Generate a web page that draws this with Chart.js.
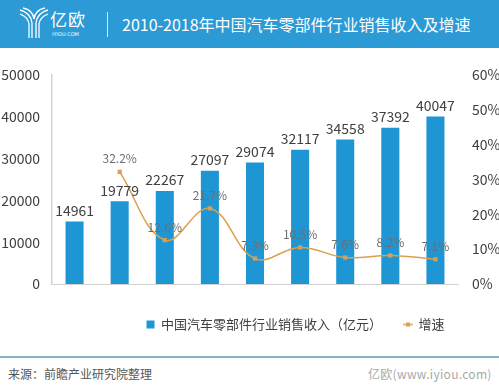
<!DOCTYPE html>
<html>
<head>
<meta charset="utf-8">
<script src="https://cdn.jsdelivr.net/npm/chart.js@4/dist/chart.umd.min.js"></script>
<style>
  html, body { margin: 0; padding: 0; }
  body { width: 499px; height: 390px; overflow: hidden; position: relative; background: #ffffff;
         font-family: "Noto Sans CJK SC", "Noto Sans", sans-serif; }
  #header { position: absolute; left: 0; top: 0; width: 499px; height: 48px; background: #2c9ad5; }
  #title { position: absolute; left: 122px; top: 12px; font-size: 16px; line-height: 24px; color: #ffffff; white-space: nowrap; }
  #brand { position: absolute; left: 50px; top: 9px; font-size: 17px; line-height: 20px; color: #ffffff; letter-spacing: 1px; }
  #brandsub { position: absolute; left: 52px; top: 31px; font-size: 5px; line-height: 6px; color: #ffffff; font-family: "DejaVu Sans", sans-serif; }
  #sep { position: absolute; left: 107px; top: 12px; width: 1px; height: 25px; background: rgba(255,255,255,0.8); }
  #logo { position: absolute; left: 18px; top: 7px; }
  #chartwrap { position: absolute; left: 0; top: 48px; width: 591px; height: 293px; }
  #rule { position: absolute; left: 0; top: 356px; width: 499px; height: 2px; background: #86b4c6; }
  #source { position: absolute; left: 8px; top: 365px; font-size: 12px; line-height: 18px; color: #555555; white-space: nowrap; }
  #wm { position: absolute; left: 368px; top: 365px; font-size: 12px; line-height: 18px; color: #9a9a9a; white-space: nowrap; opacity: 0.85; letter-spacing: 0.3px; }
</style>
</head>
<body>
<div id="header">
  <svg id="logo" width="32" height="34" viewBox="0 0 32 34">
    <g fill="none" stroke="#ffffff" stroke-width="1.3">
      <path d="M2 3 Q13 6 14 16 L14 31"/>
      <path d="M5 1 Q15 3 16 12"/>
      <path d="M30 3 Q19 6 18 16 L18 31"/>
      <path d="M27 1 Q17 3 16 12"/>
      <path d="M2 7 Q10 10 11 17 L11 31"/>
      <path d="M30 7 Q22 10 21 17 L21 31"/>
    </g>
  </svg>
  <div id="brand">亿欧</div>
  <div id="brandsub">IYIOU·COM</div>
  <div id="sep"></div>
  <div id="title">2010-2018年中国汽车零部件行业销售收入及增速</div>
</div>
<div id="chartwrap"><canvas id="c" width="591" height="293"></canvas></div>
<div id="rule"></div>
<div id="source">来源：前瞻产业研究院整理</div>
<div id="wm">亿欧(www.iyiou.com)</div>
<script>
const years = ["2010","2011","2012","2013","2014","2015","2016","2017","2018"];
const revenue = [14961, 19779, 22267, 27097, 29074, 32117, 34558, 37392, 40047];
const growth = [null, 32.2, 12.6, 21.7, 7.3, 10.5, 7.6, 8.2, 7.1];
const revenueTicks = [0, 10000, 20000, 30000, 40000, 50000];
const growthTicks = [0, 10, 20, 30, 40, 50, 60];
const revenueLabel = "中国汽车零部件行业销售收入（亿元）";
const growthLabel = "增速";

const BAR_COLOR = "#1f96d4";
const LINE_COLOR = "#d9a04f";
const TEXT = "#404040";
const FONT = '"Noto Sans CJK SC", "Noto Sans", sans-serif';

// legend marker for the line series: short line with a small square
const lineMarker = document.createElement("canvas");
lineMarker.width = 10; lineMarker.height = 6;
(function () {
  const g = lineMarker.getContext("2d");
  g.strokeStyle = LINE_COLOR; g.lineWidth = 1.5;
  g.beginPath(); g.moveTo(0, 3); g.lineTo(10, 3); g.stroke();
  g.fillStyle = LINE_COLOR; g.fillRect(3, 1, 4, 4);
})();

const valueLabels = {
  id: "valueLabels",
  afterDatasetsDraw(chart) {
    const ctx = chart.ctx;
    ctx.save();
    ctx.textAlign = "center";
    ctx.textBaseline = "middle";
    ctx.font = "14px " + FONT;
    ctx.fillStyle = TEXT;
    chart.getDatasetMeta(0).data.forEach((el, i) => {
      ctx.fillText(String(revenue[i]), el.x, el.y - 11);
    });
    ctx.font = "12px " + FONT;
    ctx.fillStyle = "#6e6e6e";
    chart.getDatasetMeta(1).data.forEach((el, i) => {
      if (growth[i] == null) return;
      ctx.fillText(growth[i].toFixed(1) + "%", el.x, el.y - 13);
    });
    ctx.restore();
  }
};

new Chart(document.getElementById("c"), {
  data: {
    labels: years,
    datasets: [
      {
        type: "bar",
        label: revenueLabel,
        data: revenue,
        backgroundColor: BAR_COLOR,
        borderWidth: 0,
        barPercentage: 0.4,
        categoryPercentage: 1.0,
        yAxisID: "y",
        order: 1
      },
      {
        type: "line",
        label: growthLabel,
        data: growth,
        borderColor: LINE_COLOR,
        backgroundColor: LINE_COLOR,
        borderWidth: 1.5,
        tension: 0.4,
        pointStyle: "rect",
        pointRadius: 3,
        pointBackgroundColor: LINE_COLOR,
        pointBorderWidth: 0,
        spanGaps: false,
        yAxisID: "y1",
        order: 0
      }
    ]
  },
  options: {
    responsive: false,
    animation: false,
    devicePixelRatio: 1,
    layout: { padding: { top: 27, left: 0, right: 0, bottom: 0 } },
    plugins: {
      tooltip: { enabled: false },
      legend: {
        position: "bottom",
        align: "center",
        labels: {
          usePointStyle: true,
          boxWidth: 8,
          boxHeight: 8,
          padding: 22,
          color: TEXT,
          font: { size: 13, family: FONT },
          sort: (a, b) => a.datasetIndex - b.datasetIndex,
          generateLabels(chart) {
            const items = Chart.defaults.plugins.legend.labels.generateLabels(chart);
            items.forEach(it => {
              if (it.datasetIndex === 0) {
                it.pointStyle = "rect";
                it.fillStyle = BAR_COLOR;
                it.strokeStyle = BAR_COLOR;
                it.lineWidth = 0;
              } else {
                it.pointStyle = lineMarker;
              }
            });
            return items;
          }
        }
      }
    },
    scales: {
      x: {
        offset: true,
        grid: { display: false },
        border: { display: true, color: "#d4d4d4", width: 1 },
        ticks: { color: TEXT, font: { size: 13, family: FONT }, padding: 11 },
        afterFit(scale) { scale.height = 12; }
      },
      y: {
        position: "left",
        min: 0,
        max: 50000,
        grid: { display: false, drawTicks: false },
        border: { display: true, color: "#d4d4d4", width: 1.5 },
        afterBuildTicks(scale) { scale.ticks = revenueTicks.map(v => ({ value: v })); },
        ticks: { color: TEXT, font: { size: 14, family: FONT }, padding: 12, callback: v => String(v) },
        afterFit(scale) { scale.width = 52; }
      },
      y1: {
        position: "right",
        min: 0,
        max: 60,
        grid: { display: false, drawTicks: false },
        border: { display: false },
        afterBuildTicks(scale) { scale.ticks = growthTicks.map(v => ({ value: v })); },
        ticks: { color: TEXT, font: { size: 14, family: FONT }, padding: 14, callback: v => v + "%" },
        afterFit(scale) { scale.width = 591 - 458; }
      }
    }
  },
  plugins: [valueLabels]
});
</script>
</body>
</html>
